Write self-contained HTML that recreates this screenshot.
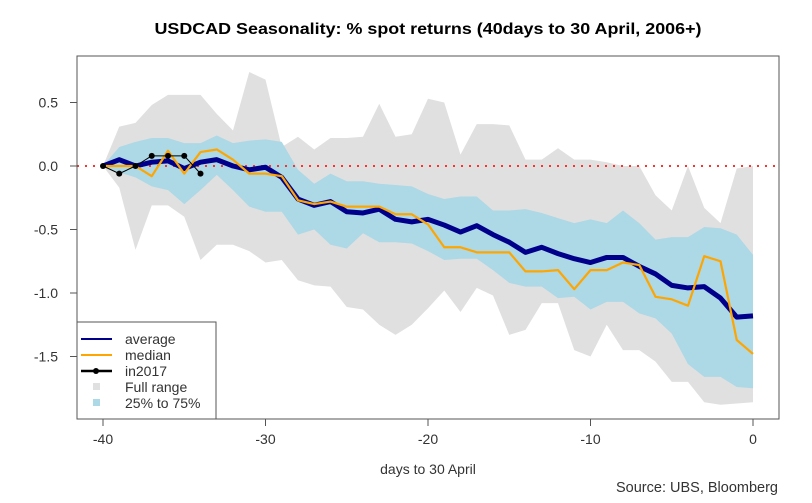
<!DOCTYPE html>
<html><head><meta charset="utf-8"><style>
body{margin:0;background:#fff;}
svg{display:block;font-family:"Liberation Sans",Arial,sans-serif;}
</style></head><body>
<svg id="chart" width="812" height="503" viewBox="0 0 812 503"></svg>
<script>
const days=[-40,-39,-38,-37,-36,-35,-34,-33,-32,-31,-30,-29,-28,-27,-26,-25,-24,-23,-22,-21,-20,-19,-18,-17,-16,-15,-14,-13,-12,-11,-10,-9,-8,-7,-6,-5,-4,-3,-2,-1,0];
const averageVals=[0,0.05,0,0.03,0.04,-0.02,0.03,0.05,0,-0.03,-0.01,-0.09,-0.26,-0.31,-0.28,-0.36,-0.37,-0.34,-0.42,-0.44,-0.42,-0.465,-0.52,-0.47,-0.54,-0.60,-0.68,-0.64,-0.69,-0.73,-0.76,-0.72,-0.72,-0.79,-0.85,-0.94,-0.96,-0.95,-1.04,-1.19,-1.18];
const medianVals=[0,0,0,-0.08,0.12,-0.06,0.11,0.13,0.05,-0.06,-0.06,-0.08,-0.27,-0.30,-0.28,-0.32,-0.32,-0.32,-0.38,-0.38,-0.46,-0.64,-0.64,-0.68,-0.68,-0.68,-0.83,-0.83,-0.82,-0.97,-0.82,-0.82,-0.76,-0.78,-1.03,-1.05,-1.10,-0.71,-0.75,-1.37,-1.48];
const days2017=[-40,-39,-38,-37,-36,-35,-34];
const vals2017=[0,-0.06,0,0.08,0.08,0.08,-0.06];
const fullHigh=[0,0.31,0.34,0.48,0.56,0.56,0.56,0.41,0.28,0.74,0.68,0.15,0.23,0.13,0.22,0.22,0.23,0.49,0.23,0.25,0.53,0.50,0.09,0.33,0.33,0.32,0.05,0.05,0.14,0.05,0.05,0.03,0,0,-0.23,-0.35,0,-0.33,-0.45,-0.02,0];
const fullLow=[0,-0.17,-0.66,-0.31,-0.31,-0.40,-0.74,-0.62,-0.62,-0.67,-0.76,-0.74,-0.90,-0.94,-0.95,-1.11,-1.13,-1.25,-1.33,-1.25,-1.12,-0.98,-1.15,-0.96,-1.02,-1.33,-1.29,-1.08,-1.08,-1.45,-1.50,-1.25,-1.45,-1.45,-1.54,-1.70,-1.70,-1.86,-1.88,-1.87,-1.86];
const q75=[0,0.15,0.19,0.22,0.22,0.18,0.18,0.24,0.18,0.20,0.21,0.19,-0.03,-0.14,-0.06,-0.12,-0.12,-0.14,-0.15,-0.16,-0.22,-0.26,-0.24,-0.24,-0.35,-0.35,-0.34,-0.37,-0.41,-0.45,-0.42,-0.45,-0.35,-0.45,-0.58,-0.56,-0.56,-0.48,-0.49,-0.54,-0.70];
const q25=[0,-0.05,-0.09,-0.16,-0.19,-0.30,-0.19,-0.07,-0.19,-0.32,-0.36,-0.36,-0.54,-0.50,-0.62,-0.65,-0.53,-0.60,-0.60,-0.61,-0.67,-0.74,-0.73,-0.73,-0.82,-0.92,-0.95,-0.95,-1.04,-1.03,-1.13,-1.07,-1.07,-1.16,-1.20,-1.32,-1.56,-1.66,-1.66,-1.74,-1.75];
const xTicks=[-40,-30,-20,-10,0];
const yTicks=[0.5,0,-0.5,-1,-1.5];
const yTickLabels=["0.5","0.0","-0.5","-1.0","-1.5"];

const NS="http://www.w3.org/2000/svg";
const svg=document.getElementById('chart');
const X=d=>103+(d+40)*16.25;
const Y=v=>166-v*127;
function mk(tag,attrs,parent){const e=document.createElementNS(NS,tag);for(const k in attrs)e.setAttribute(k,attrs[k]);(parent||svg).appendChild(e);return e;}
function txt(s,attrs){const t=mk('text',attrs);t.textContent=s;return t;}
function band(hi,lo,fill,name){
  let p=days.map((d,i)=>X(d)+','+Y(hi[i])).join(' ')+' '+days.slice().reverse().map((d,j)=>{const i=days.length-1-j;return X(d)+','+Y(lo[i]);}).join(' ');
  const e=mk('polygon',{points:p,fill:fill});
  
  
}
function line(xs,vs,stroke,w,name){
  const e=mk('polyline',{points:xs.map((d,i)=>X(d)+','+Y(vs[i])).join(' '),fill:'none',stroke:stroke,'stroke-width':w,'stroke-linejoin':'round'});
  
  
}
const title=txt('USDCAD Seasonality: % spot returns (40days to 30 April, 2006+)',{x:428,y:34,'text-anchor':'middle','font-size':15.5,'font-weight':'bold',fill:'#000',textLength:547,lengthAdjust:'spacingAndGlyphs'});



band(fullHigh,fullLow,'#e0e0e0','full-range-band');
band(q75,q25,'#add8e6','iqr-band');
const zl=mk('line',{x1:77,x2:779,y1:Y(0),y2:Y(0),stroke:'#ff3030','stroke-width':2,'stroke-dasharray':'2 6'});


line(days,averageVals,'#00008b',5,'average-line');
line(days,medianVals,'#ffa500',2.2,'median-line');
line(days2017,vals2017,'#000',1,'in2017-line');
days2017.forEach((d,i)=>{
  const c=mk('circle',{cx:X(d),cy:Y(vals2017[i]),r:3,fill:'#000'});
  
  
});
const box=mk('rect',{x:77,y:56,width:702,height:363,fill:'none',stroke:'#555','stroke-width':1});


yTicks.forEach((v,i)=>{
  const t=mk('line',{x1:70,x2:77,y1:Y(v),y2:Y(v),stroke:'#555'});
  
  
  const l=txt(yTickLabels[i],{x:58,y:Y(v)+5,'text-anchor':'end','font-size':14,fill:'#333'});
  
  
});
xTicks.forEach(d=>{
  const t=mk('line',{x1:X(d),x2:X(d),y1:419,y2:426,stroke:'#555'});
  
  
  const l=txt(String(d),{x:X(d),y:444,'text-anchor':'middle','font-size':14,fill:'#333'});
  
  
});
const xt=txt('days to 30 April',{x:428,y:474,'text-anchor':'middle','font-size':14,fill:'#333'});


const src=txt('Source: UBS, Bloomberg',{x:778,y:492,'text-anchor':'end','font-size':14.5,fill:'#333'});



const lg=mk('g',{});


mk('rect',{x:77,y:322,width:139,height:97,fill:'#fff',stroke:'#555'},lg);
const items=[['average','line','#00008b'],['median','line','#ffa500'],['in2017','pt','#000'],['Full range','sq','#e0e0e0'],['25% to 75%','sq','#add8e6']];
items.forEach((it,i)=>{
  const y=339+i*16;
  const g=mk('g',{},lg);
  
  
  if(it[1]==='sq') mk('rect',{x:93,y:y-4,width:7,height:7,fill:it[2]},g);
  else {mk('line',{x1:81,x2:112,y1:y,y2:y,stroke:it[2],'stroke-width':it[1]==='pt'?2.5:2},g);
    if(it[1]==='pt') mk('circle',{cx:96,cy:y,r:3,fill:'#000'},g);}
  const t=mk('text',{x:125,y:y+5,'font-size':14,fill:'#333'},g);t.textContent=it[0];
});
</script>
</body></html>
